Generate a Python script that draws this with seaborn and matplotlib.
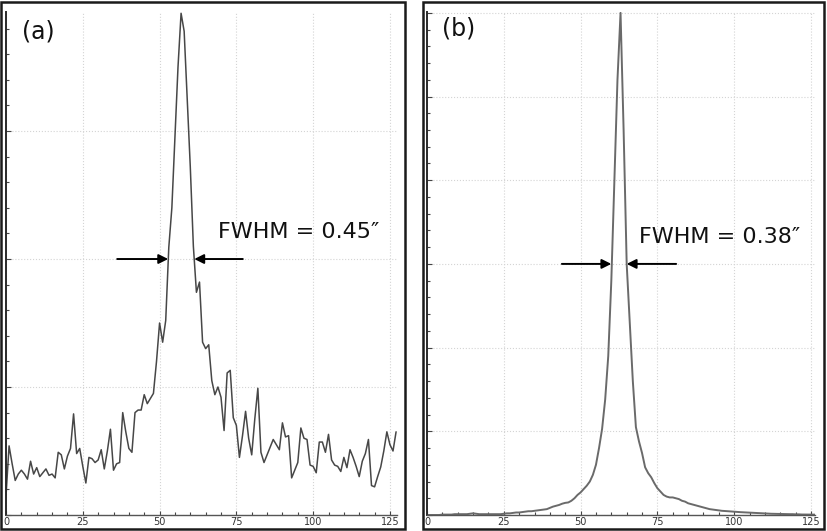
import numpy as np
import matplotlib.pyplot as plt
import matplotlib.ticker as mticker
from matplotlib.patches import Rectangle
import seaborn as sns

sns.set_theme(style="white")
plt.rcParams['font.family'] = ['DejaVu Sans', 'Noto Sans']

# ---------------------------
# data (pixel index vs. intensity, grid spacing = 1)
# ---------------------------
pixel_a = np.arange(128)
signal_a = [0.15, 0.54, 0.40, 0.27, 0.32, 0.35, 0.32, 0.28, 0.42, 0.32,
            0.37, 0.30, 0.33, 0.36, 0.31, 0.32, 0.29, 0.49, 0.47, 0.36,
            0.46, 0.52, 0.79, 0.48, 0.52, 0.38, 0.25, 0.45, 0.44, 0.41,
            0.43, 0.51, 0.36, 0.50, 0.67, 0.35, 0.40, 0.41, 0.80, 0.65,
            0.52, 0.49, 0.80, 0.82, 0.82, 0.94, 0.87, 0.91, 0.95, 1.20,
            1.50, 1.35, 1.52, 2.09, 2.40, 2.95, 3.50, 3.92, 3.78, 3.25,
            2.72, 2.10, 1.74, 1.82, 1.35, 1.30, 1.33, 1.05, 0.94, 1.00,
            0.92, 0.66, 1.11, 1.13, 0.76, 0.70, 0.45, 0.62, 0.81, 0.60,
            0.47, 0.75, 0.99, 0.49, 0.41, 0.47, 0.53, 0.59, 0.55, 0.51,
            0.72, 0.61, 0.62, 0.29, 0.35, 0.41, 0.68, 0.60, 0.59, 0.39,
            0.38, 0.33, 0.57, 0.57, 0.49, 0.63, 0.43, 0.39, 0.38, 0.34,
            0.45, 0.37, 0.51, 0.45, 0.38, 0.30, 0.42, 0.48, 0.59, 0.23,
            0.22, 0.30, 0.375, 0.50, 0.65, 0.55, 0.50, 0.65]

pixel_b = np.arange(128)
signal_b = [0.0, 0.0, 0.0, 0.0, 0.0, 0.005, 0.005, 0.005, 0.005, 0.01,
            0.01, 0.01, 0.01, 0.01, 0.015, 0.02, 0.015, 0.01, 0.01, 0.01,
            0.01, 0.01, 0.01, 0.01, 0.01, 0.015, 0.02, 0.02, 0.025, 0.03,
            0.03, 0.035, 0.04, 0.045, 0.045, 0.05, 0.055, 0.06, 0.065, 0.07,
            0.085, 0.10, 0.11, 0.12, 0.135, 0.145, 0.15, 0.17, 0.20, 0.24,
            0.27, 0.31, 0.35, 0.40, 0.48, 0.60, 0.80, 1.03, 1.38, 1.90,
            2.80, 4.00, 5.20, 6.00, 4.60, 3.00, 2.30, 1.60, 1.05, 0.88,
            0.74, 0.57, 0.50, 0.45, 0.38, 0.32, 0.28, 0.24, 0.22, 0.21,
            0.21, 0.20, 0.19, 0.17, 0.16, 0.14, 0.13, 0.12, 0.11, 0.10,
            0.09, 0.08, 0.07, 0.065, 0.06, 0.055, 0.05, 0.048, 0.045, 0.042,
            0.04, 0.037, 0.034, 0.032, 0.03, 0.028, 0.026, 0.024, 0.022, 0.02,
            0.018, 0.016, 0.015, 0.014, 0.013, 0.012, 0.011, 0.01, 0.01, 0.01,
            0.008, 0.008, 0.006, 0.006, 0.005, 0.005, 0.004, 0.004]

panel_labels = ['(a)', '(b)']
fwhm_labels = ['FWHM = 0.45\u2033', 'FWHM = 0.38\u2033']
half_max = [2.0, 3.0]
fwhm_edges = [(52.8, 61.3), (60.0, 65.0)]
arrow_tails = [(36.2, 77.1), (43.9, 81.1)]
y_top = [3.93, 6.01]
x_right = [127.3, 126.3]

# ---------------------------
# figure
# ---------------------------
W, H = 827, 531
fig = plt.figure(figsize=(W / 100, H / 100), dpi=100)


def px_rect(x0, y0, x1, y1):
    return [x0 / W, 1 - y1 / H, (x1 - x0) / W, (y1 - y0) / H]


axes = [fig.add_axes(px_rect(6, 12, 397, 515)),
        fig.add_axes(px_rect(427, 12, 815, 515))]

# outer frames around each panel
for x0, x1 in [(1, 405), (423, 824)]:
    fig.add_artist(Rectangle((x0 / W, 2 / H), (x1 - x0) / W, (H - 4) / H,
                             transform=fig.transFigure, fill=False,
                             lw=1.8, ec='#1a1a1a'))

series = [(pixel_a, signal_a, '#474747', 1.1), (pixel_b, signal_b, '#6a6a6a', 1.4)]

for i, ax in enumerate(axes):
    x, y, col, lw = series[i]
    sns.lineplot(x=x, y=y, ax=ax, color=col, lw=lw)
    ax.set_xlim(0, x_right[i])
    ax.set_ylim(0, y_top[i])

    ax.xaxis.set_major_locator(mticker.FixedLocator([0, 25, 50, 75, 100, 125]))
    ax.xaxis.set_minor_locator(mticker.MultipleLocator(5))
    ax.yaxis.set_major_locator(mticker.MultipleLocator(1))
    ax.yaxis.set_minor_locator(mticker.MultipleLocator(0.2))
    ax.grid(True, which='major', color='#d4d4d4', ls=':', lw=0.8)
    ax.tick_params(axis='x', which='both', direction='in', bottom=True,
                   labelsize=7, labelcolor='#333333', pad=1.5, color='#444444')
    ax.tick_params(axis='x', which='major', length=3, width=0.8)
    ax.tick_params(axis='x', which='minor', length=2, width=0.8)
    ax.tick_params(axis='y', which='both', direction='in', left=True,
                   labelleft=False, color='#444444')
    ax.tick_params(axis='y', which='major', length=3.5, width=0.8)
    ax.tick_params(axis='y', which='minor', length=2, width=0.8)
    for s in ['top', 'right']:
        ax.spines[s].set_visible(False)
    ax.spines['left'].set_color('#2a2a2a')
    ax.spines['left'].set_linewidth(1.4)
    ax.spines['bottom'].set_color('#555555')
    ax.spines['bottom'].set_linewidth(1.0)
    ax.set_xlabel('')
    ax.set_ylabel('')

    # FWHM arrows pointing at the half maximum
    hm = half_max[i]
    for tip, tail in zip(fwhm_edges[i], arrow_tails[i]):
        ax.annotate('', xy=(tip, hm), xytext=(tail, hm),
                    arrowprops=dict(arrowstyle='-|>', color='black', lw=1.4,
                                    mutation_scale=14, shrinkA=0, shrinkB=0))

# panel letters and FWHM text positioned in data coordinates
axes[0].text(5.3, 3.78, panel_labels[0], fontsize=17, color='#111111', ha='left', va='center')
axes[1].text(4.8, 5.81, panel_labels[1], fontsize=17, color='#111111', ha='left', va='center')
axes[0].text(69.0, 2.21, fwhm_labels[0], fontsize=16, color='#111111', ha='left', va='center')
axes[1].text(69.0, 3.32, fwhm_labels[1], fontsize=16, color='#111111', ha='left', va='center')

fig.savefig('out.png', dpi=100)
